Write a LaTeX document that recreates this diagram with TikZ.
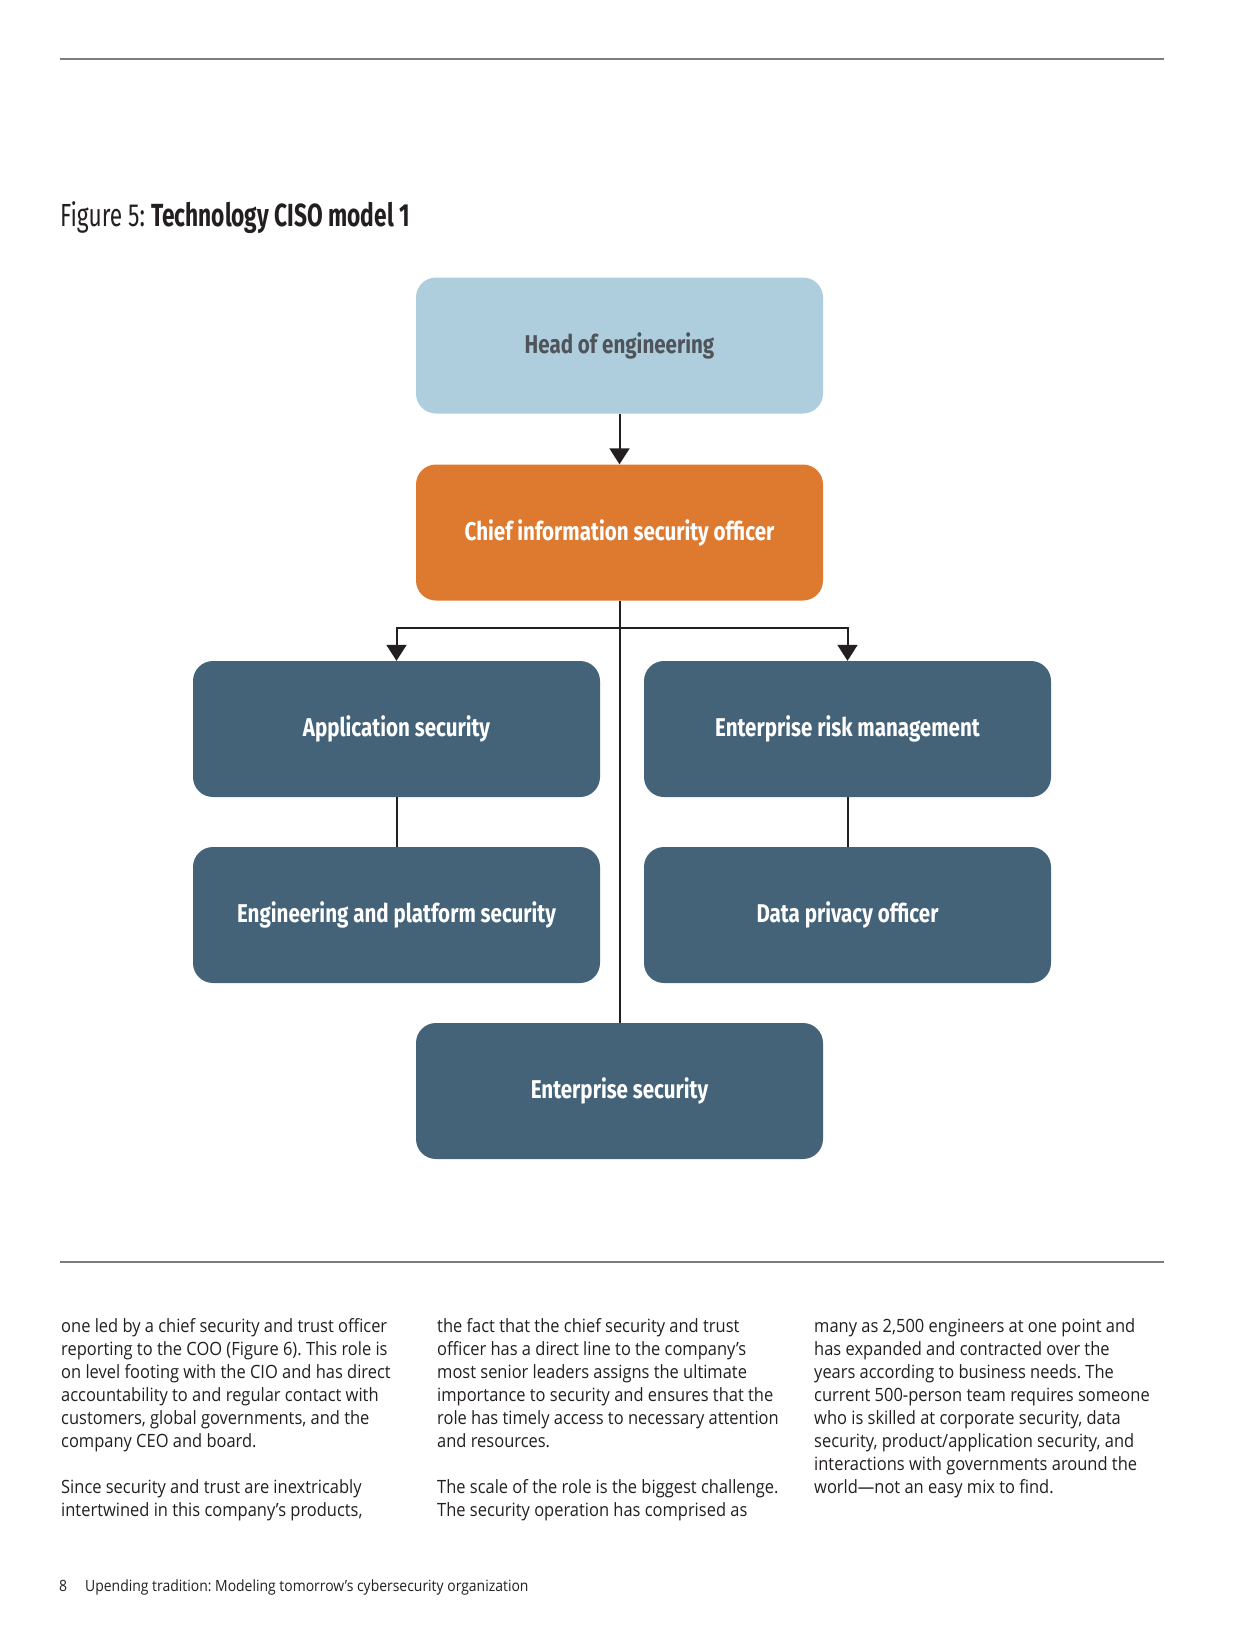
\documentclass[tikz,border=0pt]{standalone}
\usepackage{fontspec}
\setmainfont[FakeStretch=0.9]{Open Sans}
\newfontfamily\condfont[FakeStretch=0.8]{Fira Sans}
\newfontfamily\titlefont[FakeStretch=0.71]{Fira Sans}
\usetikzlibrary{arrows.meta}

\definecolor{headblue}{RGB}{174,205,221}
\definecolor{cisoorange}{RGB}{221,122,48}
\definecolor{slate}{RGB}{68,99,120}
\definecolor{headtext}{RGB}{78,84,90}
\definecolor{rulegray}{RGB}{125,125,125}
\definecolor{ink}{RGB}{35,31,32}

\begin{document}
\frenchspacing
\begin{tikzpicture}[x=1pt,y=-1pt]

  \tikzstyle{role} = [rounded corners=20pt, minimum width=407pt, minimum height=136pt, inner sep=0pt, font=\condfont\bfseries\fontsize{25.7}{30}\selectfont]
  \tikzstyle{link} = [line width=2pt, draw=ink]
  \tikzstyle{tip} = [-{Triangle[width=20pt,length=16pt]}, ink]
  \tikzstyle{body} = [anchor=base west, inner sep=0pt, text=ink, font=\fontsize{18.3}{23}\selectfont]

  \useasboundingbox[fill=white] (0,0) rectangle (1241,1650);

  % page rules and caption
  \draw[rulegray, line width=1.5pt] (60,59) -- (1164,59);
  \draw[rulegray, line width=1.5pt] (60,1262) -- (1164,1262);
  \node[anchor=base west, inner sep=0pt, text=ink, font=\titlefont\fontsize{32}{36}\selectfont] (caption) at (60,226) {Figure 5: \textbf{Technology CISO model 1}};

  % org chart
  \node[role, fill=headblue, text=headtext] (head) at (619.5,345.5) {Head of engineering};
  \node[role, fill=cisoorange, text=white] (ciso) at (619.5,532.5) {Chief information security officer};
  \node[role, fill=slate, text=white] (appsec) at (396.5,729) {Application security};
  \node[role, fill=slate, text=white] (erm) at (847.5,729) {Enterprise risk management};
  \node[role, fill=slate, text=white] (engsec) at (396.5,915) {Engineering and platform security};
  \node[role, fill=slate, text=white] (dpo) at (847.5,915) {Data privacy officer};
  \node[role, fill=slate, text=white] (entsec) at (619.5,1091) {Enterprise security};

  \coordinate (split) at (619.5,628);

  \draw[link, tip] (head) -- (ciso);
  \draw[link] (ciso) -- (entsec);
  \draw[link, tip] (split) -| (appsec);
  \draw[link, tip] (split) -| (erm);
  \draw[link] (appsec) -- (engsec);
  \draw[link] (erm) -- (dpo);

  % body text, three columns
  \foreach \line [count=\i from 0] in {{one led by a chief security and trust officer}, {reporting to the COO (Figure 6). This role is}, {on level footing with the CIO and has direct}, {accountability to and regular contact with}, {customers, global governments, and the}, {company CEO and board.}}
    \node[body] (colA-\i) at (61,1332+23*\i) {\line};
  \foreach \line [count=\i from 0] in {{Since security and trust are inextricably}, {intertwined in this company’s products,}}
    \node[body] (colB-\i) at (61,1493+23*\i) {\line};

  \foreach \line [count=\i from 0] in {{the fact that the chief security and trust}, {officer has a direct line to the company’s}, {most senior leaders assigns the ultimate}, {importance to security and ensures that the}, {role has timely access to necessary attention}, {and resources.}}
    \node[body] (colC-\i) at (437,1332+23*\i) {\line};
  \foreach \line [count=\i from 0] in {{The scale of the role is the biggest challenge.}, {The security operation has comprised as}}
    \node[body] (colD-\i) at (437,1493+23*\i) {\line};

  \foreach \line [count=\i from 0] in {{many as 2,500 engineers at one point and}, {has expanded and contracted over the}, {years according to business needs. The}, {current 500-person team requires someone}, {who is skilled at corporate security, data}, {security, product/application security, and}, {interactions with governments around the}, {world—not an easy mix to find.}}
    \node[body] (colE-\i) at (814,1332+23*\i) {\line};

  % footer
  \node[body, font=\fontsize{15.5}{19}\selectfont] (pagenum) at (59,1591) {8};
  \node[body, font=\fontsize{15.5}{19}\selectfont] (running) at (85,1591) {Upending tradition: Modeling tomorrow’s cybersecurity organization};

\end{tikzpicture}
\end{document}
